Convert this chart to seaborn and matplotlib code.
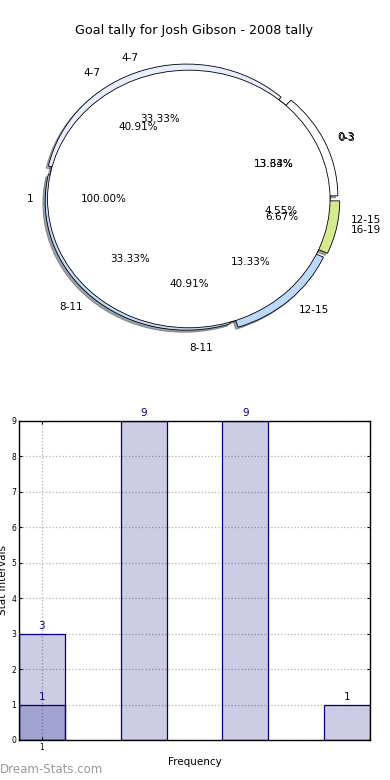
import matplotlib
matplotlib.use("Agg")
import matplotlib.pyplot as plt
import seaborn as sns
import pandas as pd

# ---- data ----
title = "Goal tally for Josh Gibson - 2008 tally"

# three tallies drawn on top of each other in the pie
a_labels = ["1"]
a_counts = [1]

b_labels = ["0-3", "4-7", "8-11", "12-15"]
b_counts = [3, 9, 9, 1]

c_labels = ["0-3", "4-7", "8-11", "12-15", "16-19"]
c_counts = [2, 5, 5, 2, 1]
c_colors = ["#ffffff", "#e6eeff", "#c4dcfb", "#bcd8fd", "#d2eb8c"]
c_explode = [0.06, 0.05, 0.025, 0.06, 0.07]

# ---- style ----
sns.set_style("white", {"axes.edgecolor": "black"})
plt.rcParams["font.family"] = ["DejaVu Sans"]
plt.rcParams["text.color"] = "black"
plt.rcParams["axes.labelcolor"] = "black"
plt.rcParams["xtick.color"] = "black"
plt.rcParams["ytick.color"] = "black"

fig = plt.figure(figsize=(3.9, 7.8), dpi=100)
fig.text(0.497, 0.961, title, ha="center", va="center", fontsize=9.2)

# ---- pie ----
ax1 = fig.add_axes([0.0314, 0.5385, 0.9054, 0.4128])
wp = dict(edgecolor="black", linewidth=0.6)
tp = dict(fontsize=7.5)
shd = {"ox": -0.012, "oy": -0.012}
ax1.pie(b_counts, labels=b_labels, colors=["white"] * len(b_counts),
        labeldistance=1.16, pctdistance=0.66,
        autopct="%1.2f%%", wedgeprops=wp, textprops=tp)
ax1.pie(c_counts, labels=c_labels, colors=c_colors, explode=c_explode,
        autopct="%1.2f%%", shadow=shd, wedgeprops=wp, textprops=tp)
ax1.pie(a_counts, labels=a_labels, colors=["white"],
        autopct="%1.2f%%", shadow=shd, wedgeprops=wp, textprops=tp)
ax1.set_aspect("auto")
ax1.set_xlim(-1.25, 1.25)
ax1.set_ylim(-1.25, 1.25)

# ---- bars ----
ax2 = fig.add_axes([0.0487, 0.0513, 0.9, 0.409])
df = pd.DataFrame({"interval": b_labels, "count": b_counts})
sns.barplot(data=df, x="interval", y="count", order=b_labels, color="navy",
            saturation=1, width=0.45, edgecolor="navy", linewidth=0.9, ax=ax2)
sns.barplot(x=[b_labels[0]], y=a_counts, order=b_labels, color="navy",
            saturation=1, width=0.45, edgecolor="navy", linewidth=0.9, ax=ax2)
for p in ax2.patches:
    p.set_facecolor((0, 0, 0.5, 0.2))
    p.set_edgecolor("navy")
for c in ax2.containers:
    ax2.bar_label(c, color="navy", fontsize=7.5, padding=2)

ax2.set_xlim(-0.225, 3.225)
ax2.set_ylim(0, 9)
ax2.set_yticks(range(0, 10))
ax2.set_xticks([0])
ax2.set_xticklabels(a_labels)
ax2.tick_params(labelsize=5.5, length=2, direction="in", right=True, left=True, bottom=True, top=True, pad=2)
ax2.grid(True, linestyle=":", color="#b0b0b0", linewidth=0.9)
ax2.set_axisbelow(True)
for s in ax2.spines.values():
    s.set_color("black")
    s.set_linewidth(1)
ax2.set_xlabel("Frequency", fontsize=7.5, labelpad=4)
ax2.set_ylabel("Stat Intervals", fontsize=7.5)
ax2.yaxis.set_label_coords(-0.032, 0.5)

fig.text(0.0, 0.013, "Dream-Stats.com", color="#999999", fontsize=8.5, ha="left", va="center")

fig.savefig("out.png", dpi=100)
